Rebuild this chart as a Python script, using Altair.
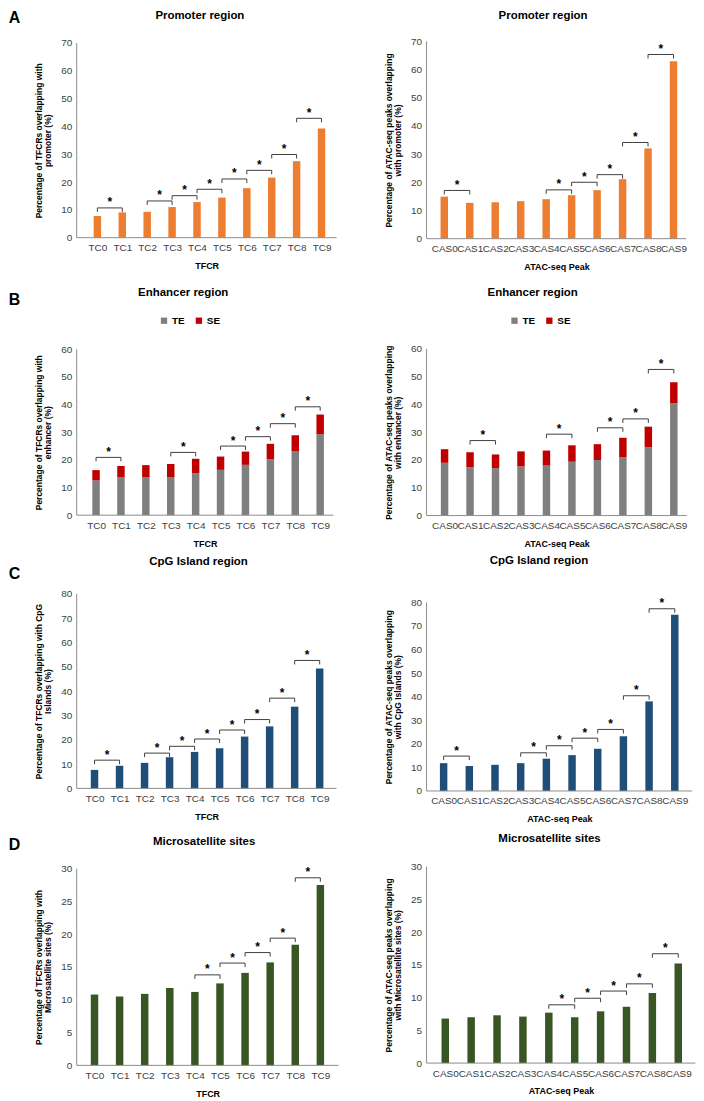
import json
import altair as alt
import pandas as pd

FONT = "Liberation Sans"
INK = "#000000"
LABEL = "#404040"
AXIS = "#8c8c8c"
BRACKET = "#404040"

ORANGE = "#ED7D31"
GREY = "#7F7F7F"
RED = "#C00000"
BLUE = "#1F4E79"
GREEN = "#375623"

TFCR = ["TC0", "TC1", "TC2", "TC3", "TC4", "TC5", "TC6", "TC7", "TC8", "TC9"]
CAS = ["CAS0", "CAS1", "CAS2", "CAS3", "CAS4", "CAS5", "CAS6", "CAS7", "CAS8", "CAS9"]
SERIES_B = ["TE", "SE"]

# A: promoter region
prom_tfcr = [7.8, 9.1, 9.3, 11.0, 12.8, 14.4, 17.8, 21.6, 27.5, 39.2]
prom_tfcr_brackets = [(0, 1, 10.7), (2, 3, 13.2), (3, 4, 15.1), (4, 5, 17.4),
                      (5, 6, 21.1), (6, 7, 24.2), (7, 8, 29.9), (8, 9, 42.9)]
prom_cas = [14.9, 12.7, 12.9, 13.3, 14.0, 15.4, 17.2, 21.1, 32.0, 62.9]
prom_cas_brackets = [(0, 1, 17.1), (4, 5, 17.3), (5, 6, 20.0), (6, 7, 22.7),
                     (7, 8, 34.1), (8, 9, 65.3)]

# B: enhancer region (TE + SE stacked)
enh_tfcr_te = [12.6, 13.8, 13.8, 13.8, 15.2, 16.4, 18.2, 20.2, 23.2, 29.3]
enh_tfcr_se = [3.7, 4.0, 4.3, 4.7, 5.2, 4.8, 4.8, 5.6, 5.7, 7.1]
enh_tfcr_brackets = [(0, 1, 20.9), (3, 4, 22.7), (5, 6, 25.0), (6, 7, 28.4),
                     (7, 8, 33.1), (8, 9, 39.2)]
enh_cas_te = [19.0, 17.4, 17.1, 17.7, 18.0, 19.4, 20.0, 21.0, 24.6, 40.5]
enh_cas_se = [4.9, 5.4, 4.9, 5.4, 5.4, 5.9, 5.7, 7.0, 7.4, 7.5]
enh_cas_brackets = [(1, 2, 27.0), (4, 5, 29.3), (6, 7, 31.6), (7, 8, 34.8),
                    (8, 9, 52.6)]

# C: CpG island region
cpg_tfcr = [7.6, 9.3, 10.5, 12.8, 15.0, 16.5, 21.3, 25.5, 33.6, 49.3]
cpg_tfcr_brackets = [(0, 1, 11.6), (2, 3, 14.5), (3, 4, 17.3), (4, 5, 20.3),
                     (5, 6, 24.0), (6, 7, 28.3), (7, 8, 37.1), (8, 9, 52.6)]
cpg_cas = [11.8, 10.6, 11.1, 11.8, 13.7, 15.2, 17.9, 23.2, 38.0, 74.8]
cpg_cas_brackets = [(0, 1, 14.8), (3, 4, 16.2), (4, 5, 19.2), (5, 6, 22.4),
                    (6, 7, 26.1), (7, 8, 40.4), (8, 9, 77.3)]

# D: microsatellite sites
ms_tfcr = [10.8, 10.5, 10.9, 11.8, 11.2, 12.5, 14.1, 15.7, 18.4, 27.5]
ms_tfcr_brackets = [(4, 5, 13.8), (5, 6, 15.6), (6, 7, 17.2), (7, 8, 19.4),
                    (8, 9, 28.6)]
ms_cas = [6.8, 7.0, 7.3, 7.1, 7.7, 7.0, 7.9, 8.6, 10.7, 15.2]
ms_cas_brackets = [(4, 5, 8.9), (5, 6, 9.9), (6, 7, 11.0), (7, 8, 12.1),
                   (8, 9, 16.7)]

LETTER_X = 9  # page x of the panel letters (page margin 8 + 1px text bound)

# page-pixel layout (plot boxes, first bar, bar step, texts)
LAY = {
    "A_L": dict(left=77.3, top=41.7, bottom=237.3, right=338.3, c0=93.7, step=26.0,
                title_x=201, title_y=18, letter_y=22),
    "A_R": dict(left=424.0, top=40.0, bottom=238.3, right=685.0, c0=437.3, step=26.6,
                title_x=541, title_y=18),
    "B_L": dict(left=77.3, top=347.7, bottom=514.3, right=335.0, c0=92.3, step=26.0,
                title_x=184.3, title_y=294, letter_y=303, legend_x=160, legend_y=314),
    "B_R": dict(left=423.7, top=348.3, bottom=515.7, right=685.0, c0=437.3, step=26.6,
                title_x=530.3, title_y=295, legend_x=507, legend_y=315),
    "C_L": dict(left=77.3, top=592.3, bottom=787.7, right=338.3, c0=90.7, step=26.1,
                title_x=199.7, title_y=563.3, letter_y=577),
    "C_R": dict(left=428.7, top=602.3, bottom=791.7, right=695.5, c0=441.3, step=26.8,
                title_x=541.7, title_y=564),
    "D_L": dict(left=77.3, top=865.7, bottom=1063.3, right=340.3, c0=90.7, step=26.2,
                title_x=205.3, title_y=842, letter_y=847),
    "D_R": dict(left=423.7, top=867.7, bottom=1065.0, right=693.7, c0=438.0, step=27.0,
                title_x=547.2, title_y=843),
}
ROWS = ["A", "B", "C", "D"]
COL_GAP = min(LAY[r + "_R"]["left"] - LAY[r + "_L"]["right"] for r in ROWS)


def group_box(key):
    """Group (flush) box of a panel: each column is a stack of panels, each
    panel's group starting where the one above ends."""
    row, side = key.split("_")
    k = ROWS.index(row)
    lay = LAY[key]
    if k == 0:
        gtop = min(LAY["A_L"]["top"], LAY["A_R"]["top"])
    else:
        gtop = LAY[ROWS[k - 1] + "_" + side]["bottom"]
    if side == "L":
        gwidth = LAY[row + "_R"]["left"] - COL_GAP - lay["left"]
    else:
        gwidth = lay["right"] - lay["left"]
    return gtop, gwidth


def panel(key, cats, series, names, colors, brackets, title, ytitle, xtitle,
          ymax, ystep, letter=None):
    lay = LAY[key]
    gtop, width = group_box(key)
    height = lay["bottom"] - gtop
    plot_h = lay["bottom"] - lay["top"]
    pad = lay["top"] - gtop
    axis_w = lay["right"] - lay["left"]
    ytop = ymax * height / plot_h
    xlo = -(lay["c0"] - lay["left"]) / lay["step"]
    xhi = xlo + width / lay["step"]
    idx = list(range(len(cats)))
    xscale = alt.Scale(domain=[xlo, xhi], nice=False, zero=False)
    yscale = alt.Scale(domain=[0, ytop], nice=False)
    xaxis = alt.Axis(values=idx, labelExpr=json.dumps(cats) + "[datum.value]",
                     title=xtitle, grid=False, ticks=False, domain=False,
                     labelFont=FONT, labelFontSize=10, labelColor=LABEL,
                     labelPadding=5, labelOverlap=False, labelFlush=False,
                     titleFont=FONT, titleFontSize=9, titleFontWeight="bold",
                     titleColor=INK, titlePadding=9, titleX=axis_w / 2)
    yaxis = alt.Axis(values=list(range(0, ymax + 1, ystep)), title=ytitle,
                     grid=False, ticks=False, domain=False,
                     labelFont=FONT, labelFontSize=10, labelColor=LABEL,
                     labelPadding=5, titleFont=FONT, titleFontSize=8.5,
                     titleFontWeight="bold", titleColor=INK,
                     titleLineHeight=9, titlePadding=8, titleY=pad + plot_h / 2)
    rows = []
    for s, (name, vals) in enumerate(zip(names, series)):
        for i, v in zip(idx, vals):
            rows.append({"i": i, "cat": cats[i], "series": name, "ord": s, "v": v})
    df = pd.DataFrame(rows)
    enc = dict(x=alt.X("i:Q", scale=xscale, axis=xaxis),
               y=alt.Y("v:Q", scale=yscale, axis=yaxis, stack="zero"))
    if len(names) > 1:
        enc["color"] = alt.Color(
            "series:N", scale=alt.Scale(domain=names, range=colors),
            legend=alt.Legend(orient="none", legendX=lay["legend_x"] - lay["left"],
                              legendY=lay["legend_y"] - gtop,
                              direction="horizontal", title=None, symbolType="square",
                              symbolSize=40, symbolStrokeWidth=0, labelFont=FONT,
                              labelFontSize=10, labelFontWeight="bold", labelColor=INK,
                              labelOffset=3, columnPadding=9, padding=0))
        enc["order"] = alt.Order("ord:Q")
        bars = alt.Chart(df).mark_bar(size=7.5, orient="vertical").encode(**enc)
    else:
        bars = alt.Chart(df).mark_bar(size=7.5, orient="vertical",
                                      color=colors[0]).encode(**enc)

    tick = 4.0 * ymax / plot_h
    seg, star = [], []
    for a, b, h in brackets:
        seg.append({"x": a, "x2": b, "y": h, "y2": h})
        seg.append({"x": a, "x2": a, "y": h - tick, "y2": h})
        seg.append({"x": b, "x2": b, "y": h - tick, "y2": h})
        star.append({"x": (a + b) / 2, "y": h})
    rules = alt.Chart(pd.DataFrame(seg)).mark_rule(color=BRACKET, strokeWidth=1).encode(
        x=alt.X("x:Q", scale=xscale, axis=xaxis), x2="x2:Q",
        y=alt.Y("y:Q", scale=yscale, axis=yaxis), y2="y2:Q")
    stars = alt.Chart(pd.DataFrame(star)).mark_text(
        text="*", font=FONT, fontSize=12, fontWeight="bold", color=INK,
        baseline="alphabetic", dy=-1.5).encode(
        x=alt.X("x:Q", scale=xscale, axis=xaxis),
        y=alt.Y("y:Q", scale=yscale, axis=yaxis))
    # axis lines: y from 0 to the top tick, x along the category range
    y_line = alt.Chart(pd.DataFrame({"y": [0], "y2": [ymax]})).mark_rule(
        color=AXIS, strokeWidth=1).encode(
        x=alt.value(0), y=alt.Y("y:Q", scale=yscale, axis=yaxis), y2="y2:Q")
    x_line = alt.Chart(pd.DataFrame({"y": [0]})).mark_rule(
        color=AXIS, strokeWidth=1).encode(
        x=alt.value(0), x2=alt.value(axis_w), y=alt.Y("y:Q", scale=yscale, axis=yaxis))
    layers = [bars, rules, stars, y_line, x_line]
    ttl = alt.Chart(pd.DataFrame({"t": [title]})).mark_text(
        font=FONT, fontSize=11.5, fontWeight="bold", color=INK, align="center",
        baseline="alphabetic").encode(
        x=alt.value(lay["title_x"] - lay["left"]),
        y=alt.value(lay["title_y"] - gtop), text="t:N")
    layers.append(ttl)
    if letter:
        lt = alt.Chart(pd.DataFrame({"t": [letter]})).mark_text(
            font=FONT, fontSize=16, fontWeight="bold", color=INK, align="left",
            baseline="alphabetic").encode(
            x=alt.value(LETTER_X - lay["left"]),
            y=alt.value(lay["letter_y"] - gtop), text="t:N")
        layers.append(lt)
    return alt.layer(*layers).properties(width=width, height=height)


TF_Y = "Percentage of TFCRs  overlapping with"
AT_Y = "Percentage of ATAC-seq peaks overlapping"

a_left = panel("A_L", TFCR, [prom_tfcr], ["v"], [ORANGE], prom_tfcr_brackets,
               "Promoter region", [TF_Y, "promoter (%)"], "TFCR", 70, 10, letter="A")
a_right = panel("A_R", CAS, [prom_cas], ["v"], [ORANGE], prom_cas_brackets,
                "Promoter region", [AT_Y, "with promoter (%)"], "ATAC-seq Peak", 70, 10)

b_left = panel("B_L", TFCR, [enh_tfcr_te, enh_tfcr_se], SERIES_B, [GREY, RED],
               enh_tfcr_brackets, "Enhancer region", [TF_Y, "enhancer (%)"], "TFCR",
               60, 10, letter="B")
b_right = panel("B_R", CAS, [enh_cas_te, enh_cas_se], SERIES_B, [GREY, RED],
                enh_cas_brackets, "Enhancer region", [AT_Y, "with enhancer (%)"],
                "ATAC-seq Peak", 60, 10)

c_left = panel("C_L", TFCR, [cpg_tfcr], ["v"], [BLUE], cpg_tfcr_brackets,
               "CpG Island region", ["Percentage of TFCRs  overlapping with CpG", "Islands (%)"],
               "TFCR", 80, 10, letter="C")
c_right = panel("C_R", CAS, [cpg_cas], ["v"], [BLUE], cpg_cas_brackets,
                "CpG Island region", [AT_Y, "with CpG Islands (%)"], "ATAC-seq Peak", 80, 10)

d_left = panel("D_L", TFCR, [ms_tfcr], ["v"], [GREEN], ms_tfcr_brackets,
               "Microsatellite sites", [TF_Y, "Microsatellite sites (%)"], "TFCR",
               30, 5, letter="D")
d_right = panel("D_R", CAS, [ms_cas], ["v"], [GREEN], ms_cas_brackets,
                "Microsatellite sites", [AT_Y, "with Microsatellite sites (%)"],
                "ATAC-seq Peak", 30, 5)

chart = alt.concat(
    a_left, a_right, b_left, b_right, c_left, c_right, d_left, d_right,
    columns=2, spacing={"row": 0, "column": COL_GAP}, align="none", bounds="flush",
).resolve_scale(color="independent").properties(padding=0).configure(
    font=FONT, view=alt.ViewConfig(stroke=None))

chart.save("out.html", embed_options={"renderer": "svg", "actions": False})
